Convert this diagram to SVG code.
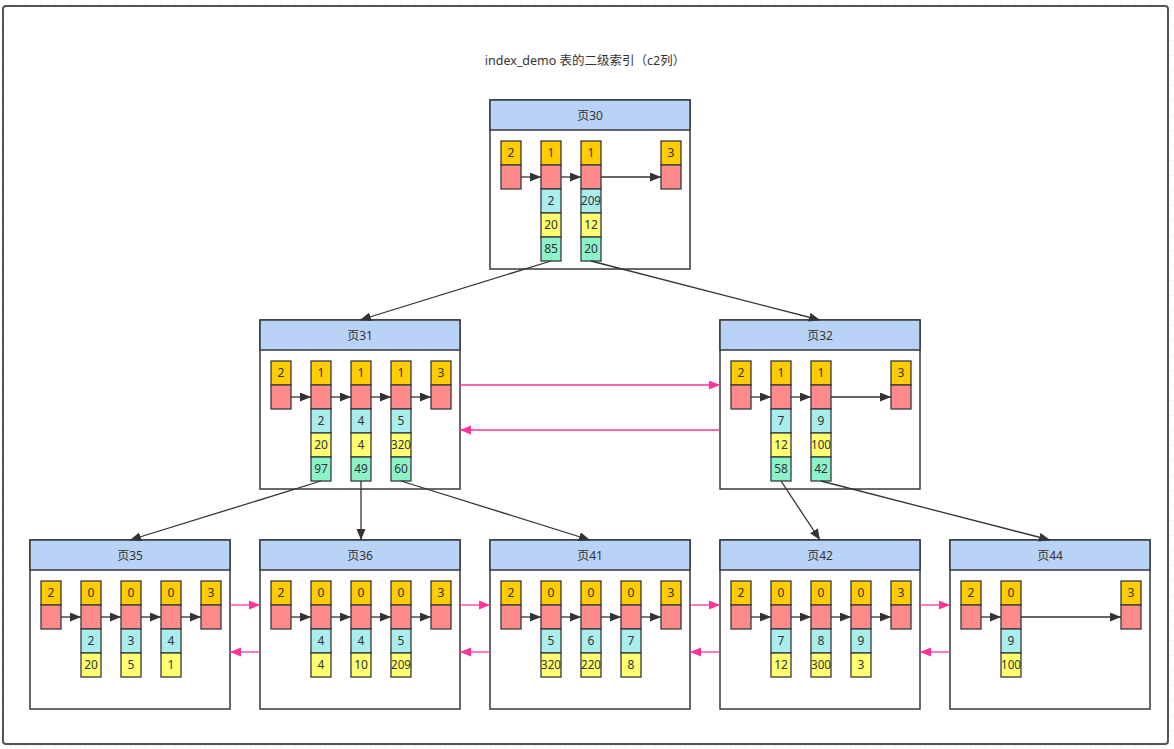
<svg xmlns="http://www.w3.org/2000/svg" width="1174" height="749" viewBox="0 0 1174 749">
<defs>
<pattern id="grid" x="10" y="10" width="15" height="15" patternUnits="userSpaceOnUse">
<path d="M0,0 H15 M0,0 V15" fill="none" stroke="#eeeeee" stroke-width="1"/>
</pattern>
<marker id="ad" markerUnits="userSpaceOnUse" markerWidth="12" markerHeight="10" refX="11" refY="4.5" orient="auto"><path d="M0,0 L11,4.5 L0,9 z" fill="#333333"/></marker>
<marker id="ap" markerUnits="userSpaceOnUse" markerWidth="12" markerHeight="10" refX="11" refY="4.5" orient="auto"><path d="M0,0 L11,4.5 L0,9 z" fill="#ff3399"/></marker>
</defs>
<style>
text{font-family:"Noto Sans","Noto Sans CJK SC",sans-serif;font-size:12px;fill:#333333;text-anchor:middle}
.page{fill:#ffffff;stroke:#36393d;stroke-width:1.5}
.hdr{fill:#b9d3f6;stroke:#36393d;stroke-width:1.5}
.c{stroke:#36393d;stroke-width:1.3}
.o{fill:#ffcc00}
.p{fill:#ff8a8a}
.b{fill:#a9eeec}
.y{fill:#ffff70}
.g{fill:#8cf2c8}
.ln{fill:none;stroke:#333333;stroke-width:1.3}
.pk{fill:none;stroke:#ff3399;stroke-width:1.3}
</style>
<rect width="1174" height="749" fill="#ffffff"/>
<rect width="1174" height="749" fill="url(#grid)"/>
<rect x="3" y="6" width="1165" height="738" rx="3" fill="#ffffff" stroke="#50555a" stroke-width="2"/>
<text x="585" y="65" style="font-size:12.5px">index_demo 表的二级索引（c2列）</text>

<g id="page30">
<rect class="page" x="490" y="100" width="200" height="169"/>
<rect class="hdr" x="490" y="100" width="200" height="30"/>
<text x="590" y="120">页30</text>
<rect class="c o" x="501" y="141" width="20" height="24"/><text x="511" y="157">2</text>
<rect class="c p" x="501" y="165" width="20" height="24"/>
<rect class="c o" x="541" y="141" width="20" height="24"/><text x="551" y="157">1</text>
<rect class="c p" x="541" y="165" width="20" height="24"/>
<rect class="c b" x="541" y="189" width="20" height="24"/><text x="551" y="205">2</text>
<rect class="c y" x="541" y="213" width="20" height="24"/><text x="551" y="229">20</text>
<rect class="c g" x="541" y="237" width="20" height="24"/><text x="551" y="253">85</text>
<rect class="c o" x="581" y="141" width="20" height="24"/><text x="591" y="157">1</text>
<rect class="c p" x="581" y="165" width="20" height="24"/>
<rect class="c b" x="581" y="189" width="20" height="24"/><text x="591" y="205" textLength="20" lengthAdjust="spacingAndGlyphs">209</text>
<rect class="c y" x="581" y="213" width="20" height="24"/><text x="591" y="229">12</text>
<rect class="c g" x="581" y="237" width="20" height="24"/><text x="591" y="253">20</text>
<rect class="c o" x="661" y="141" width="20" height="24"/><text x="671" y="157">3</text>
<rect class="c p" x="661" y="165" width="20" height="24"/>
<path class="ln" d="M521,177 H541" marker-end="url(#ad)"/>
<path class="ln" d="M561,177 H581" marker-end="url(#ad)"/>
<path class="ln" d="M601,177 H661" marker-end="url(#ad)"/>
</g>

<g id="page31">
<rect class="page" x="260" y="320" width="200" height="169"/>
<rect class="hdr" x="260" y="320" width="200" height="30"/>
<text x="360" y="340">页31</text>
<rect class="c o" x="271" y="361" width="20" height="24"/><text x="281" y="377">2</text>
<rect class="c p" x="271" y="385" width="20" height="24"/>
<rect class="c o" x="311" y="361" width="20" height="24"/><text x="321" y="377">1</text>
<rect class="c p" x="311" y="385" width="20" height="24"/>
<rect class="c b" x="311" y="409" width="20" height="24"/><text x="321" y="425">2</text>
<rect class="c y" x="311" y="433" width="20" height="24"/><text x="321" y="449">20</text>
<rect class="c g" x="311" y="457" width="20" height="24"/><text x="321" y="473">97</text>
<rect class="c o" x="351" y="361" width="20" height="24"/><text x="361" y="377">1</text>
<rect class="c p" x="351" y="385" width="20" height="24"/>
<rect class="c b" x="351" y="409" width="20" height="24"/><text x="361" y="425">4</text>
<rect class="c y" x="351" y="433" width="20" height="24"/><text x="361" y="449">4</text>
<rect class="c g" x="351" y="457" width="20" height="24"/><text x="361" y="473">49</text>
<rect class="c o" x="391" y="361" width="20" height="24"/><text x="401" y="377">1</text>
<rect class="c p" x="391" y="385" width="20" height="24"/>
<rect class="c b" x="391" y="409" width="20" height="24"/><text x="401" y="425">5</text>
<rect class="c y" x="391" y="433" width="20" height="24"/><text x="401" y="449" textLength="20" lengthAdjust="spacingAndGlyphs">320</text>
<rect class="c g" x="391" y="457" width="20" height="24"/><text x="401" y="473">60</text>
<rect class="c o" x="431" y="361" width="20" height="24"/><text x="441" y="377">3</text>
<rect class="c p" x="431" y="385" width="20" height="24"/>
<path class="ln" d="M291,397 H311" marker-end="url(#ad)"/>
<path class="ln" d="M331,397 H351" marker-end="url(#ad)"/>
<path class="ln" d="M371,397 H391" marker-end="url(#ad)"/>
<path class="ln" d="M411,397 H431" marker-end="url(#ad)"/>
</g>

<g id="page32">
<rect class="page" x="720" y="320" width="200" height="169"/>
<rect class="hdr" x="720" y="320" width="200" height="30"/>
<text x="820" y="340">页32</text>
<rect class="c o" x="731" y="361" width="20" height="24"/><text x="741" y="377">2</text>
<rect class="c p" x="731" y="385" width="20" height="24"/>
<rect class="c o" x="771" y="361" width="20" height="24"/><text x="781" y="377">1</text>
<rect class="c p" x="771" y="385" width="20" height="24"/>
<rect class="c b" x="771" y="409" width="20" height="24"/><text x="781" y="425">7</text>
<rect class="c y" x="771" y="433" width="20" height="24"/><text x="781" y="449">12</text>
<rect class="c g" x="771" y="457" width="20" height="24"/><text x="781" y="473">58</text>
<rect class="c o" x="811" y="361" width="20" height="24"/><text x="821" y="377">1</text>
<rect class="c p" x="811" y="385" width="20" height="24"/>
<rect class="c b" x="811" y="409" width="20" height="24"/><text x="821" y="425">9</text>
<rect class="c y" x="811" y="433" width="20" height="24"/><text x="821" y="449" textLength="20" lengthAdjust="spacingAndGlyphs">100</text>
<rect class="c g" x="811" y="457" width="20" height="24"/><text x="821" y="473">42</text>
<rect class="c o" x="891" y="361" width="20" height="24"/><text x="901" y="377">3</text>
<rect class="c p" x="891" y="385" width="20" height="24"/>
<path class="ln" d="M751,397 H771" marker-end="url(#ad)"/>
<path class="ln" d="M791,397 H811" marker-end="url(#ad)"/>
<path class="ln" d="M831,397 H891" marker-end="url(#ad)"/>
</g>

<g id="page35">
<rect class="page" x="30" y="540" width="200" height="169"/>
<rect class="hdr" x="30" y="540" width="200" height="30"/>
<text x="130" y="560">页35</text>
<rect class="c o" x="41" y="581" width="20" height="24"/><text x="51" y="597">2</text>
<rect class="c p" x="41" y="605" width="20" height="24"/>
<rect class="c o" x="81" y="581" width="20" height="24"/><text x="91" y="597">0</text>
<rect class="c p" x="81" y="605" width="20" height="24"/>
<rect class="c b" x="81" y="629" width="20" height="24"/><text x="91" y="645">2</text>
<rect class="c y" x="81" y="653" width="20" height="24"/><text x="91" y="669">20</text>
<rect class="c o" x="121" y="581" width="20" height="24"/><text x="131" y="597">0</text>
<rect class="c p" x="121" y="605" width="20" height="24"/>
<rect class="c b" x="121" y="629" width="20" height="24"/><text x="131" y="645">3</text>
<rect class="c y" x="121" y="653" width="20" height="24"/><text x="131" y="669">5</text>
<rect class="c o" x="161" y="581" width="20" height="24"/><text x="171" y="597">0</text>
<rect class="c p" x="161" y="605" width="20" height="24"/>
<rect class="c b" x="161" y="629" width="20" height="24"/><text x="171" y="645">4</text>
<rect class="c y" x="161" y="653" width="20" height="24"/><text x="171" y="669">1</text>
<rect class="c o" x="201" y="581" width="20" height="24"/><text x="211" y="597">3</text>
<rect class="c p" x="201" y="605" width="20" height="24"/>
<path class="ln" d="M61,617 H81" marker-end="url(#ad)"/>
<path class="ln" d="M101,617 H121" marker-end="url(#ad)"/>
<path class="ln" d="M141,617 H161" marker-end="url(#ad)"/>
<path class="ln" d="M181,617 H201" marker-end="url(#ad)"/>
</g>

<g id="page36">
<rect class="page" x="260" y="540" width="200" height="169"/>
<rect class="hdr" x="260" y="540" width="200" height="30"/>
<text x="360" y="560">页36</text>
<rect class="c o" x="271" y="581" width="20" height="24"/><text x="281" y="597">2</text>
<rect class="c p" x="271" y="605" width="20" height="24"/>
<rect class="c o" x="311" y="581" width="20" height="24"/><text x="321" y="597">0</text>
<rect class="c p" x="311" y="605" width="20" height="24"/>
<rect class="c b" x="311" y="629" width="20" height="24"/><text x="321" y="645">4</text>
<rect class="c y" x="311" y="653" width="20" height="24"/><text x="321" y="669">4</text>
<rect class="c o" x="351" y="581" width="20" height="24"/><text x="361" y="597">0</text>
<rect class="c p" x="351" y="605" width="20" height="24"/>
<rect class="c b" x="351" y="629" width="20" height="24"/><text x="361" y="645">4</text>
<rect class="c y" x="351" y="653" width="20" height="24"/><text x="361" y="669">10</text>
<rect class="c o" x="391" y="581" width="20" height="24"/><text x="401" y="597">0</text>
<rect class="c p" x="391" y="605" width="20" height="24"/>
<rect class="c b" x="391" y="629" width="20" height="24"/><text x="401" y="645">5</text>
<rect class="c y" x="391" y="653" width="20" height="24"/><text x="401" y="669" textLength="20" lengthAdjust="spacingAndGlyphs">209</text>
<rect class="c o" x="431" y="581" width="20" height="24"/><text x="441" y="597">3</text>
<rect class="c p" x="431" y="605" width="20" height="24"/>
<path class="ln" d="M291,617 H311" marker-end="url(#ad)"/>
<path class="ln" d="M331,617 H351" marker-end="url(#ad)"/>
<path class="ln" d="M371,617 H391" marker-end="url(#ad)"/>
<path class="ln" d="M411,617 H431" marker-end="url(#ad)"/>
</g>

<g id="page41">
<rect class="page" x="490" y="540" width="200" height="169"/>
<rect class="hdr" x="490" y="540" width="200" height="30"/>
<text x="590" y="560">页41</text>
<rect class="c o" x="501" y="581" width="20" height="24"/><text x="511" y="597">2</text>
<rect class="c p" x="501" y="605" width="20" height="24"/>
<rect class="c o" x="541" y="581" width="20" height="24"/><text x="551" y="597">0</text>
<rect class="c p" x="541" y="605" width="20" height="24"/>
<rect class="c b" x="541" y="629" width="20" height="24"/><text x="551" y="645">5</text>
<rect class="c y" x="541" y="653" width="20" height="24"/><text x="551" y="669" textLength="20" lengthAdjust="spacingAndGlyphs">320</text>
<rect class="c o" x="581" y="581" width="20" height="24"/><text x="591" y="597">0</text>
<rect class="c p" x="581" y="605" width="20" height="24"/>
<rect class="c b" x="581" y="629" width="20" height="24"/><text x="591" y="645">6</text>
<rect class="c y" x="581" y="653" width="20" height="24"/><text x="591" y="669" textLength="20" lengthAdjust="spacingAndGlyphs">220</text>
<rect class="c o" x="621" y="581" width="20" height="24"/><text x="631" y="597">0</text>
<rect class="c p" x="621" y="605" width="20" height="24"/>
<rect class="c b" x="621" y="629" width="20" height="24"/><text x="631" y="645">7</text>
<rect class="c y" x="621" y="653" width="20" height="24"/><text x="631" y="669">8</text>
<rect class="c o" x="661" y="581" width="20" height="24"/><text x="671" y="597">3</text>
<rect class="c p" x="661" y="605" width="20" height="24"/>
<path class="ln" d="M521,617 H541" marker-end="url(#ad)"/>
<path class="ln" d="M561,617 H581" marker-end="url(#ad)"/>
<path class="ln" d="M601,617 H621" marker-end="url(#ad)"/>
<path class="ln" d="M641,617 H661" marker-end="url(#ad)"/>
</g>

<g id="page42">
<rect class="page" x="720" y="540" width="200" height="169"/>
<rect class="hdr" x="720" y="540" width="200" height="30"/>
<text x="820" y="560">页42</text>
<rect class="c o" x="731" y="581" width="20" height="24"/><text x="741" y="597">2</text>
<rect class="c p" x="731" y="605" width="20" height="24"/>
<rect class="c o" x="771" y="581" width="20" height="24"/><text x="781" y="597">0</text>
<rect class="c p" x="771" y="605" width="20" height="24"/>
<rect class="c b" x="771" y="629" width="20" height="24"/><text x="781" y="645">7</text>
<rect class="c y" x="771" y="653" width="20" height="24"/><text x="781" y="669">12</text>
<rect class="c o" x="811" y="581" width="20" height="24"/><text x="821" y="597">0</text>
<rect class="c p" x="811" y="605" width="20" height="24"/>
<rect class="c b" x="811" y="629" width="20" height="24"/><text x="821" y="645">8</text>
<rect class="c y" x="811" y="653" width="20" height="24"/><text x="821" y="669" textLength="20" lengthAdjust="spacingAndGlyphs">300</text>
<rect class="c o" x="851" y="581" width="20" height="24"/><text x="861" y="597">0</text>
<rect class="c p" x="851" y="605" width="20" height="24"/>
<rect class="c b" x="851" y="629" width="20" height="24"/><text x="861" y="645">9</text>
<rect class="c y" x="851" y="653" width="20" height="24"/><text x="861" y="669">3</text>
<rect class="c o" x="891" y="581" width="20" height="24"/><text x="901" y="597">3</text>
<rect class="c p" x="891" y="605" width="20" height="24"/>
<path class="ln" d="M751,617 H771" marker-end="url(#ad)"/>
<path class="ln" d="M791,617 H811" marker-end="url(#ad)"/>
<path class="ln" d="M831,617 H851" marker-end="url(#ad)"/>
<path class="ln" d="M871,617 H891" marker-end="url(#ad)"/>
</g>

<g id="page44">
<rect class="page" x="950" y="540" width="200" height="169"/>
<rect class="hdr" x="950" y="540" width="200" height="30"/>
<text x="1050" y="560">页44</text>
<rect class="c o" x="961" y="581" width="20" height="24"/><text x="971" y="597">2</text>
<rect class="c p" x="961" y="605" width="20" height="24"/>
<rect class="c o" x="1001" y="581" width="20" height="24"/><text x="1011" y="597">0</text>
<rect class="c p" x="1001" y="605" width="20" height="24"/>
<rect class="c b" x="1001" y="629" width="20" height="24"/><text x="1011" y="645">9</text>
<rect class="c y" x="1001" y="653" width="20" height="24"/><text x="1011" y="669" textLength="20" lengthAdjust="spacingAndGlyphs">100</text>
<rect class="c o" x="1121" y="581" width="20" height="24"/><text x="1131" y="597">3</text>
<rect class="c p" x="1121" y="605" width="20" height="24"/>
<path class="ln" d="M981,617 H1001" marker-end="url(#ad)"/>
<path class="ln" d="M1021,617 H1121" marker-end="url(#ad)"/>
</g>

<g id="connectors">
<path class="ln" d="M551,261 L360,320" marker-end="url(#ad)"/>
<path class="ln" d="M591,261 L820,320" marker-end="url(#ad)"/>
<path class="ln" d="M321,481 L130,540" marker-end="url(#ad)"/>
<path class="ln" d="M361,481 L361,540" marker-end="url(#ad)"/>
<path class="ln" d="M401,481 L590,540" marker-end="url(#ad)"/>
<path class="ln" d="M781,481 L820,540" marker-end="url(#ad)"/>
<path class="ln" d="M821,481 L1050,540" marker-end="url(#ad)"/>
<path class="pk" d="M460,385 H720" marker-end="url(#ap)"/>
<path class="pk" d="M720,430 H460" marker-end="url(#ap)"/>
<path class="pk" d="M230,605 H260" marker-end="url(#ap)"/>
<path class="pk" d="M260,652 H230" marker-end="url(#ap)"/>
<path class="pk" d="M460,605 H490" marker-end="url(#ap)"/>
<path class="pk" d="M490,652 H460" marker-end="url(#ap)"/>
<path class="pk" d="M690,605 H720" marker-end="url(#ap)"/>
<path class="pk" d="M720,652 H690" marker-end="url(#ap)"/>
<path class="pk" d="M920,605 H950" marker-end="url(#ap)"/>
<path class="pk" d="M950,652 H920" marker-end="url(#ap)"/>
</g>
</svg>
